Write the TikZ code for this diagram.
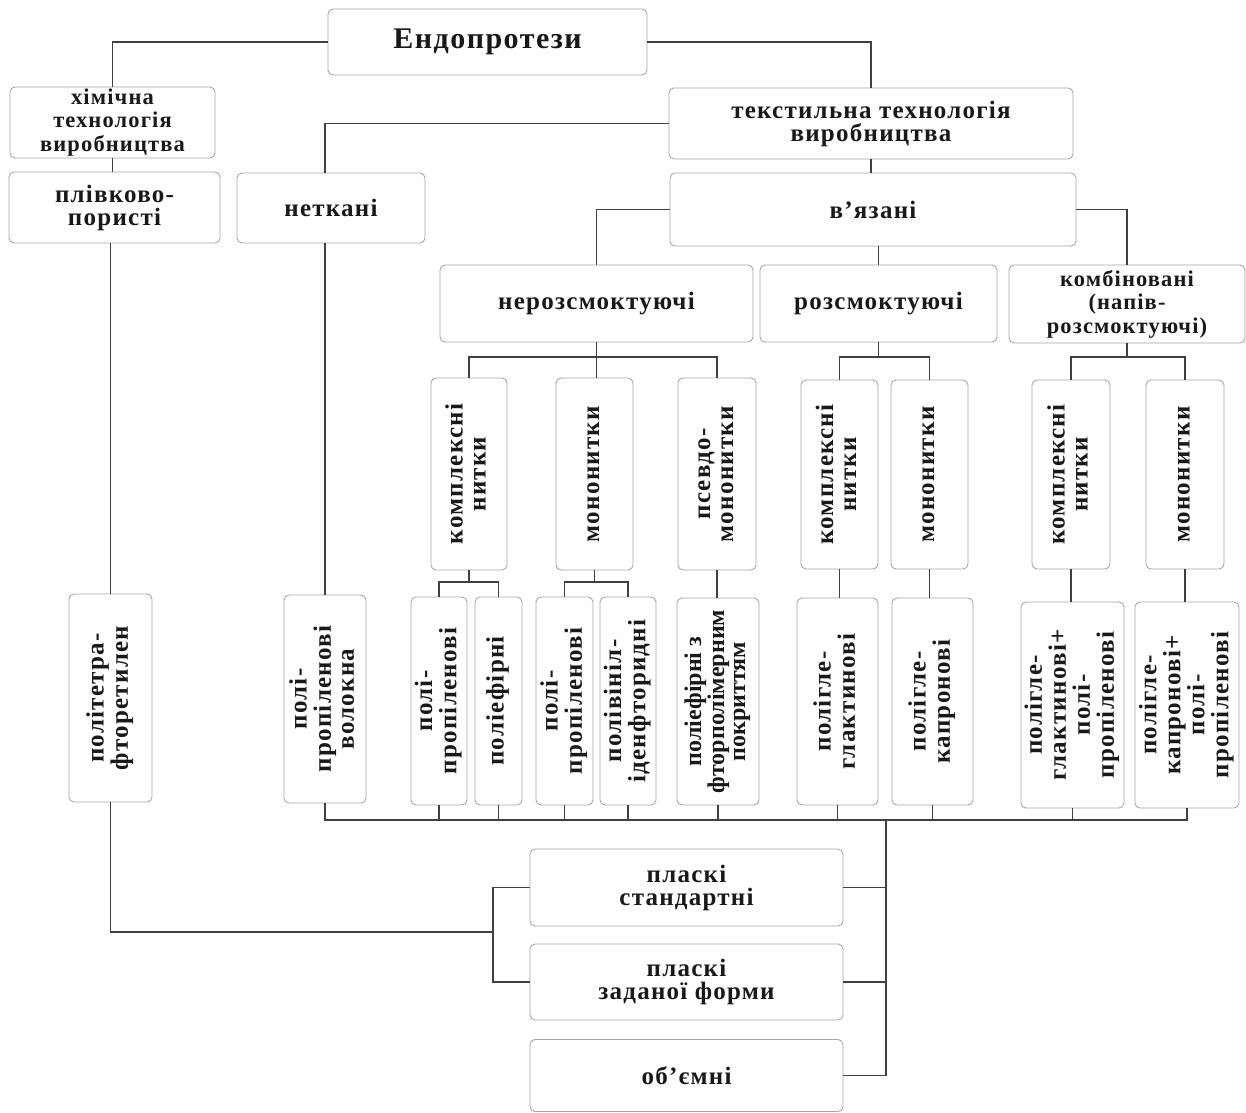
\documentclass[tikz,border=0pt]{standalone}
\usepackage{fontspec}
\setmainfont{Liberation Serif}[LetterSpace=5]
\usepackage{graphicx}
\newcommand\vtext[1]{\rotatebox{90}{\begin{tabular}{@{}c@{}}#1\end{tabular}}}
\tikzset{
  box/.style={draw=black!35, line width=0.9pt, rounded corners=5pt, inner sep=0pt,
    align=center, text=black!90, font=\bfseries\fontsize{25}{23}\selectfont},
  con/.style={draw=black!75, line width=1.6pt},
}
\begin{document}
\begin{tikzpicture}[x=1pt,y=-1pt]
\useasboundingbox[fill=white] (0,0) rectangle (1246,1112);
% top levels
\node[box, minimum width=319, minimum height=66, font=\bfseries\fontsize{30}{28}\selectfont] (endo) at (487.5,42) {Ендопротези};
\node[box, minimum width=205, minimum height=71, font=\bfseries\fontsize{22.5}{23.5}\selectfont] (chem) at (112.5,122.5) {хімічна\\технологія\\виробництва};
\node[box, minimum width=211, minimum height=71] (film) at (114.5,207.5) {плівково-\\пористі};
\node[box, minimum width=188, minimum height=70] (nonw) at (331,208) {неткані};
\node[box, minimum width=404, minimum height=71] (text) at (871,123.5) {текстильна технологія\\виробництва};
\node[box, minimum width=406, minimum height=73] (knit) at (873,209.5) {в'язані};
\node[box, minimum width=313, minimum height=77] (nonabs) at (596.5,303.5) {нерозсмоктуючі};
\node[box, minimum width=237, minimum height=77] (abs) at (878.5,303.5) {розсмоктуючі};
\node[box, minimum width=236, minimum height=78, font=\bfseries\fontsize{22.5}{23.5}\selectfont] (comb) at (1127,304) {комбіновані\\(напів-\\розсмоктуючі)};
% middle vertical boxes
\node[box, minimum width=76, minimum height=192] (m1) at (469,474) {\vtext{комплексні\\нитки}};
\node[box, minimum width=77, minimum height=192] (m2) at (594.5,474) {\vtext{мононитки}};
\node[box, minimum width=78, minimum height=192] (m3) at (717,474) {\vtext{псевдо-\\мононитки}};
\node[box, minimum width=77, minimum height=189] (m4) at (839.5,474.5) {\vtext{комплексні\\нитки}};
\node[box, minimum width=77, minimum height=189] (m5) at (929.5,474.5) {\vtext{мононитки}};
\node[box, minimum width=78, minimum height=189] (m6) at (1071,474.5) {\vtext{комплексні\\нитки}};
\node[box, minimum width=78, minimum height=189] (m7) at (1185,474.5) {\vtext{мононитки}};
% bottom vertical boxes
\node[box, minimum width=83, minimum height=208] (b1) at (110.5,698) {\vtext{політетра-\\фторетилен}};
\node[box, minimum width=82, minimum height=208] (b2) at (325,699) {\vtext{полі-\\пропіленові\\волокна}};
\node[box, minimum width=56, minimum height=208] (b3) at (439,701) {\vtext{полі-\\пропіленові}};
\node[box, minimum width=47, minimum height=208] (b4) at (498.5,701) {\vtext{поліефірні}};
\node[box, minimum width=57, minimum height=208] (b5) at (564.5,701) {\vtext{полі-\\пропіленові}};
\node[box, minimum width=56, minimum height=208] (b6) at (628,701) {\vtext{полівініл-\\іденфторидні}};
\node[box, minimum width=82, minimum height=207, font=\bfseries\fontsize{24}{21}\selectfont\addfontfeature{LetterSpace=0}] (b7) at (718,701.5) {\vtext{поліефірні з\\фторполімерним\\покриттям}};
\node[box, minimum width=81, minimum height=207] (b8) at (837.5,701.5) {\vtext{полігле-\\глактинові}};
\node[box, minimum width=81, minimum height=207] (b9) at (932.5,701.5) {\vtext{полігле-\\капронові}};
\node[box, minimum width=103, minimum height=206, font=\bfseries\fontsize{25}{22}\selectfont] (b10) at (1072.5,705) {\vtext{полігле-\\глактинові+\\полі-\\пропіленові}};
\node[box, minimum width=104, minimum height=206, font=\bfseries\fontsize{25}{22}\selectfont] (b11) at (1187,705) {\vtext{полігле-\\капронові+\\полі-\\пропіленові}};
% bottom horizontal boxes
\node[box, minimum width=313, minimum height=77] (p1) at (686.5,887.5) {пласкі\\стандартні};
\node[box, minimum width=313, minimum height=76] (p2) at (686.5,982) {пласкі\\заданої форми};
\node[box, minimum width=313, minimum height=72] (p3) at (686.5,1075.5) {об’ємні};
% junction coordinates
\coordinate (jn) at (596.5,357);
\coordinate (ja) at (878.5,357);
\coordinate (jc) at (1127,357);
\coordinate (bus) at (886,820);
\coordinate (lj) at (493,932);
\coordinate (s1) at (469,582);
\coordinate (s2) at (594.5,582);
% connectors
\draw[con] (endo.west) -| (chem.north);
\draw[con] (endo.east) -| (text.north);
\draw[con] (chem.south) -- (chem.south |- film.north);
\draw[con] (text.west) -| (nonw.north -| b2.north);
\draw[con] (text.south) -- (text.south |- knit.north);
\draw[con] (knit.west) -| (nonabs.north);
\draw[con] (abs.north) -- (abs.north |- knit.south);
\draw[con] (knit.east) -| (comb.north);
\draw[con] (nonabs.south) -- (jn);
\draw[con] (m1.north) -- (m1.north |- jn) -- (m3.north |- jn) -- (m3.north);
\draw[con] (jn) -- (jn |- m2.north);
\draw[con] (abs.south) -- (ja);
\draw[con] (m4.north) -- (m4.north |- ja) -- (m5.north |- ja) -- (m5.north);
\draw[con] (comb.south) -- (jc);
\draw[con] (m6.north) -- (m6.north |- jc) -- (m7.north |- jc) -- (m7.north);
\draw[con] (m1.south) -- (s1);
\draw[con] (b3.north) -- (b3.north |- s1) -- (b4.north |- s1) -- (b4.north);
\draw[con] (m2.south) -- (s2);
\draw[con] (b5.north) -- (b5.north |- s2) -- (b6.north |- s2) -- (b6.north);
\draw[con] (m3.south) -- (m3.south |- b7.north);
\draw[con] (m4.south) -- (m4.south |- b8.north);
\draw[con] (m5.south) -- (m5.south |- b9.north);
\draw[con] (m6.south) -- (m6.south |- b10.north);
\draw[con] (m7.south) -- (m7.south |- b11.north);
\draw[con] (b1.north) -- (b1.north |- film.south);
\draw[con] (b2.north) -- (b2.north |- nonw.south);
\draw[con] (b2.south) -- (b2.south |- bus) -- (b11.south |- bus) -- (b11.south);
\foreach \n in {b3,b4,b5,b6,b7,b8,b9,b10} \draw[con] (\n.south) -- (\n.south |- bus);
\draw[con] (bus) |- (p3.east);
\draw[con] (p1.east) -- (p1.east -| bus);
\draw[con] (p2.east) -- (p2.east -| bus);
\draw[con] (b1.south) |- (lj);
\draw[con] (p1.west) -| (lj);
\draw[con] (p2.west) -| (lj);
\end{tikzpicture}
\end{document}
